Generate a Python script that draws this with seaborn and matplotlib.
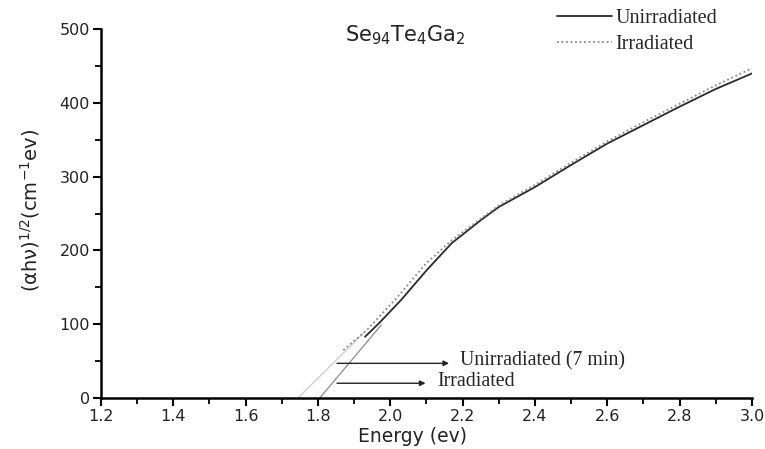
import matplotlib
matplotlib.use("Agg")
import matplotlib.pyplot as plt
import seaborn as sns
import pandas as pd
from matplotlib.ticker import MultipleLocator

# Data
energy_unirr = [1.93, 1.97, 2.03, 2.10, 2.17, 2.25, 2.30, 2.40, 2.50, 2.60, 2.70, 2.80, 2.90, 3.00]
alpha_unirr = [83, 102, 133, 173, 210, 241, 259, 286, 316, 345, 370, 395, 419, 440]
energy_irr = [1.87, 1.935, 2.02, 2.10, 2.17, 2.25, 2.30, 2.40, 2.50, 2.60, 2.70, 2.80, 2.90, 3.00]
alpha_irr = [65, 92, 137, 183, 214, 243, 261, 289, 319, 348, 374, 399, 424, 447]
# tangent (extrapolation) lines
fit_unirr_x = [1.805, 1.975]
fit_unirr_y = [0, 99]
fit_irr_x = [1.745, 1.93]
fit_irr_y = [0, 90]

sns.set_theme(style="ticks")
plt.rcParams['font.family'] = ['DejaVu Sans']

fig = plt.figure(figsize=(7.65, 4.49), dpi=100)
ax = fig.add_axes([0.132, 0.1136, 0.851, 0.8214])

df_u = pd.DataFrame({"E": energy_unirr, "A": alpha_unirr})
df_i = pd.DataFrame({"E": energy_irr, "A": alpha_irr})

sns.lineplot(x=fit_irr_x, y=fit_irr_y, ax=ax, color="#cccccc", lw=0.9)
sns.lineplot(x=fit_unirr_x, y=fit_unirr_y, ax=ax, color="#8a8a8a", lw=0.9)
sns.lineplot(data=df_u, x="E", y="A", ax=ax, color="#2a2a2a", lw=1.3, label="Unirradiated")
sns.lineplot(data=df_i, x="E", y="A", ax=ax, color="#888888", lw=1.3, linestyle=(0, (1, 1.5)), label="Irradiated")

ax.set_xlim(1.2, 3.0)
ax.set_ylim(0, 500)
ax.xaxis.set_major_locator(MultipleLocator(0.2))
ax.xaxis.set_minor_locator(MultipleLocator(0.1))
ax.yaxis.set_major_locator(MultipleLocator(100))
ax.yaxis.set_minor_locator(MultipleLocator(50))
ax.xaxis.set_major_formatter(matplotlib.ticker.FormatStrFormatter('%.1f'))

for s in ["top", "right"]:
    ax.spines[s].set_visible(False)
for s in ["left", "bottom"]:
    ax.spines[s].set_linewidth(1.8)
    ax.spines[s].set_color("black")
ax.tick_params(which="major", direction="out", length=6, width=1.5, labelsize=11.5, colors="black", pad=2)
ax.tick_params(which="minor", direction="out", length=4, width=1.3, colors="black")
for lab in ax.get_xticklabels() + ax.get_yticklabels():
    lab.set_color("#222222")

ax.set_xlabel("Energy (ev)", fontsize=13.5, color="#222222", fontweight="medium")
ax.xaxis.set_label_coords(0.478, -0.078)
ax.set_ylabel("(αhν)$^{1/2}$(cm$^{-1}$ev)", fontsize=14, color="#222222")
ax.yaxis.set_label_coords(-0.09, 0.51)

ax.text(345 / 765, 1 - 35 / 449, r"Se$_{94}$Te$_{4}$Ga$_{2}$", transform=fig.transFigure, fontsize=15,
        ha="left", va="center", color="#222222")

leg = ax.legend(loc="upper left", bbox_to_anchor=(557 / 765, 1 - 9 / 449), bbox_transform=fig.transFigure,
                frameon=False, handlelength=2.75, handletextpad=0.15, labelspacing=0.35,
                prop={"family": "Liberation Serif", "size": 14.5}, borderpad=0, borderaxespad=0)

ax.annotate("", xy=(2.17, 47), xytext=(1.845, 47),
            arrowprops=dict(arrowstyle="-|>", color="#222222", lw=1.0, mutation_scale=8))
ax.text(2.193, 51, "Unirradiated (7 min)", family="Liberation Serif", fontsize=14.3, va="center", ha="left")
ax.annotate("", xy=(2.105, 20), xytext=(1.845, 20),
            arrowprops=dict(arrowstyle="-|>", color="#222222", lw=1.0, mutation_scale=8))
ax.text(2.13, 22, "Irradiated", family="Liberation Serif", fontsize=14.3, va="center", ha="left")

fig.savefig("out.png", dpi=100)
